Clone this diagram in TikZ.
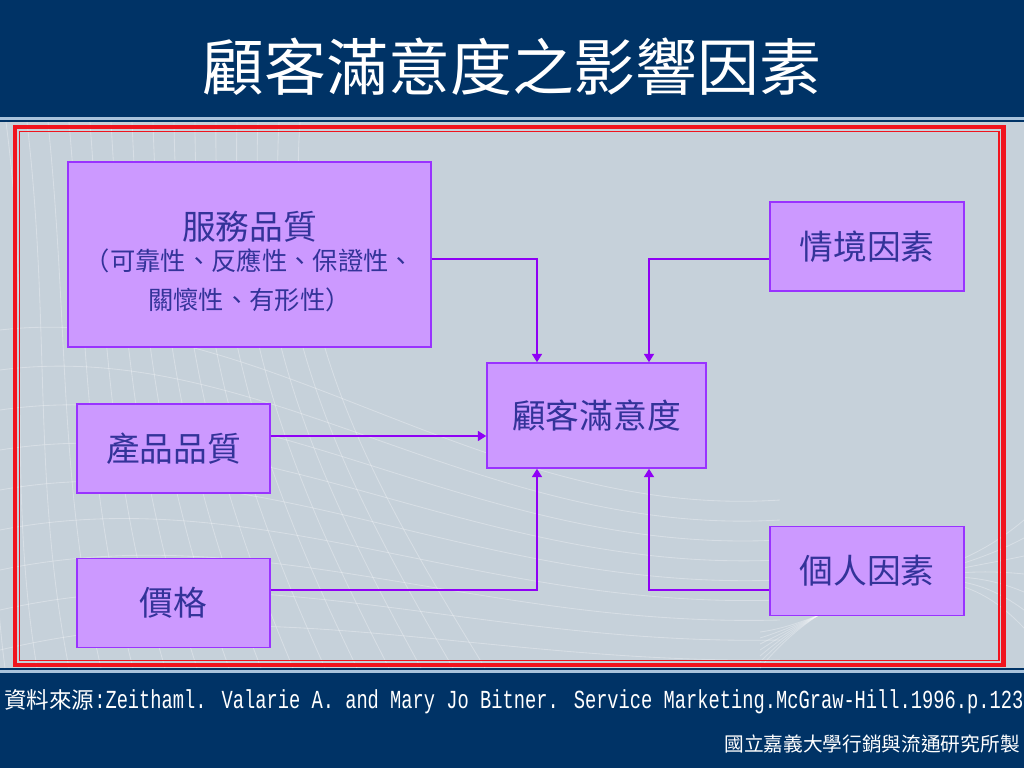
\documentclass[tikz,border=0pt]{standalone}
\usepackage{fontspec}
\usepackage{graphicx}
\newfontfamily\cjk{Noto Sans CJK TC}
\newfontfamily\mono{Liberation Mono}
\usetikzlibrary{arrows.meta,positioning}
\definecolor{navy}{HTML}{003366}
\definecolor{slate}{HTML}{C6D1DA}
\definecolor{strip}{HTML}{A9C3DC}
\definecolor{frame}{HTML}{F0141E}
\definecolor{boxfill}{HTML}{CC99FF}
\definecolor{boxline}{HTML}{9933FF}
\definecolor{flowline}{HTML}{8F00F5}
\definecolor{ink}{HTML}{333399}
\begin{document}
\begin{tikzpicture}[x=0.025cm, y=-0.025cm,
  factor/.style = {draw=boxline, line width=1pt, fill=boxfill, text=ink, inner sep=0pt,
                   font=\cjk\fontsize{24}{28}\selectfont},
  small/.style = {factor, minimum width=4.825cm, minimum height=2.225cm},
  flow/.style = {draw=flowline, line width=2.1pt, -{Triangle[length=6pt,width=7pt]}},
  mesh/.style = {white, opacity=.3, line width=.6pt}]
\useasboundingbox (0,0) rectangle (1024,768);
% slide background
\fill[slate] (0,0) rectangle (1024,768);
\fill[navy] (0,0) rectangle (1024,117);
\fill[strip] (0,117) rectangle (1024,120);
\fill[navy] (0,120) rectangle (1024,122);
\fill[navy] (0,668) rectangle (1024,670);
\fill[strip] (0,670) rectangle (1024,673);
\fill[navy] (0,673) rectangle (1024,768);
\begin{scope}
\clip (0,122) rectangle (1024,668);
\foreach \i in {0,...,15}
  \draw[mesh] (\i*21-15,122) .. controls (\i*18+15,330) and (\i*26-20,480) .. (\i*32+5,668);
\foreach \j in {0,...,8}
  \draw[mesh] (0,330+\j*40) .. controls (260,300+\j*36) and (480,520+\j*18) .. (780,500+\j*20);
\foreach \k in {0,...,6}
  \draw[mesh] (760,668-\k*6) .. controls (850,560+\k*10) and (930,600-\k*12) .. (1024,520+\k*18);
\end{scope}
\draw[frame, line width=2.9pt] (15,127) rectangle (1003.5,665);
\draw[frame, line width=1pt] (19.5,131.5) rectangle (999,660.5);
% title
\node[text=white, font=\cjk\fontsize{44}{50}\selectfont] (title) at (512,67) {顧客滿意度之影響因素};
% factors
\node[factor, minimum width=9.075cm, minimum height=4.625cm, text width=9cm, align=center] (svc) at (249.5,254.5)
  {\fontsize{24}{24}\selectfont\rule{0pt}{30pt}服務品質\\[-1.6pt] \fontsize{18}{23.5}\selectfont （可靠性、反應性、保證性、\\關懷性、有形性）};
\node[small] (prod) at (173.5,448.5) {產品品質};
\node[small, below=1.6cm of prod] (price) {價格};
\node[factor, minimum width=5.475cm, minimum height=2.625cm] (sat) at (596.5,415.5) {顧客滿意度};
\node[small, minimum width=4.85cm] (sit) at (867,246.5) {情境因素};
\node[small, minimum width=4.85cm, below=5.85cm of sit] (pers) {個人因素};
% connectors
\coordinate (up) at (537,259);
\coordinate (up2) at (649,259);
\coordinate (lo) at (537,590);
\coordinate (lo2) at (649,590);
\coordinate (mid) at (0,436);
\draw[flow] (svc.east |- up) -| (sat.north -| up);
\draw[flow] (sit.west |- up2) -| (sat.north -| up2);
\draw[flow] (prod.east |- mid) -- (sat.west |- mid);
\draw[flow] (price.east |- lo) -| (sat.south -| lo);
\draw[flow] (pers.west |- lo2) -| (sat.south -| lo2);
% source and footer
\node[anchor=base west, text=white, inner sep=0pt] (src) at (4,708)
  {\cjk\fontsize{16}{18}\selectfont 資料來源\scalebox{0.72}[1]{\mono\fontsize{18.5}{20}\selectfont :Zeithaml. Valarie A. and Mary Jo Bitner. Service Marketing.McGraw-Hill.1996.p.123}};
\node[anchor=east, text=white, inner sep=0pt, font=\cjk\fontsize{14}{16}\selectfont] (made) at (1020,744) {國立嘉義大學行銷與流通研究所製};
\end{tikzpicture}
\end{document}
